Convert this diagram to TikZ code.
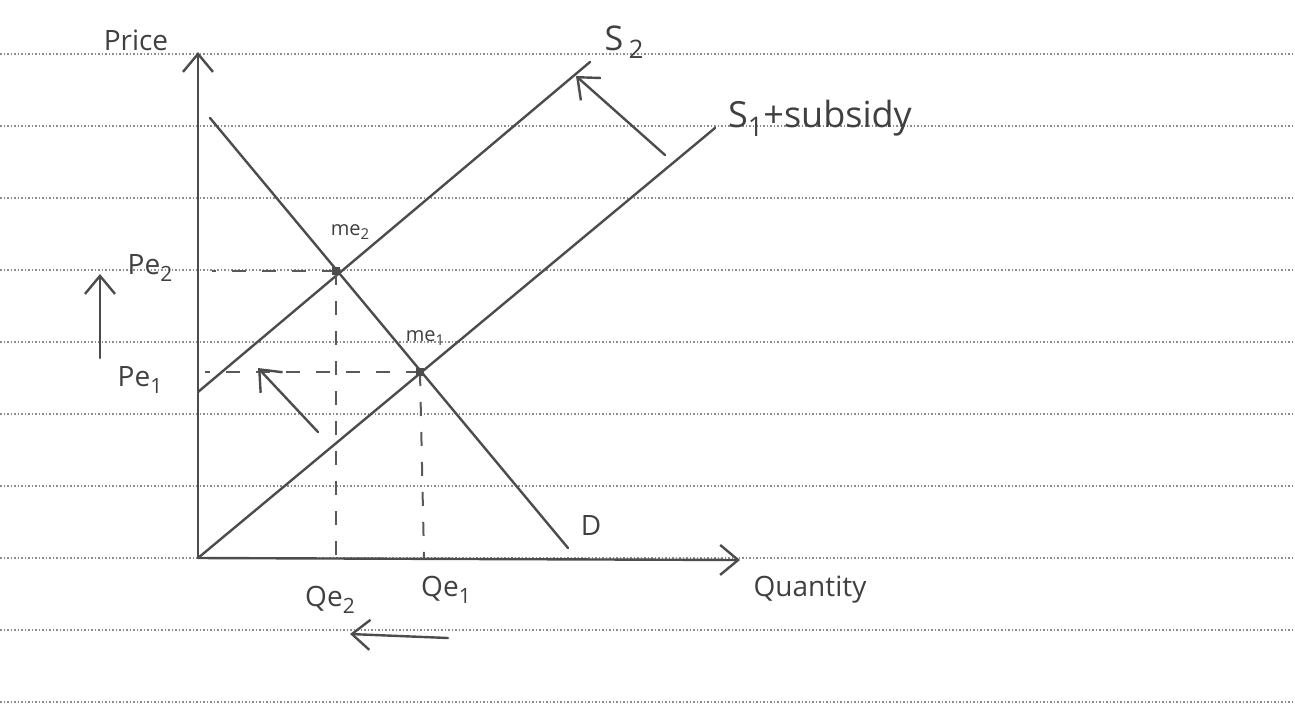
\documentclass[tikz,border=0pt]{standalone}
\usepackage{fontspec}
\setmainfont{Open Sans}
\usetikzlibrary{arrows.meta,calc}
\newcommand\lsub[1]{\raisebox{-0.45ex}{\scalebox{0.75}{#1}}}
\begin{document}
\begin{tikzpicture}[x=1pt,y=-1pt,
  ink/.style={draw=black!70,line width=2.4pt,line cap=round},
  guide/.style={draw=black!65,line width=2pt,dash pattern=on 14pt off 16pt},
  paper/.style={draw=black!45,line width=1.2pt,dash pattern=on 1.5pt off 2pt},
  barb/.style={-{Straight Barb[length=18pt,width=30pt,line width=2.4pt]}},
  lbl/.style={text=black!75,font=\fontsize{28}{30}\selectfont,inner sep=0pt},
  small/.style={text=black!75,font=\fontsize{20}{22}\selectfont,inner sep=0pt}]
\useasboundingbox (0,0) rectangle (1295,705);
% lined paper
\foreach \yy in {54,126,198,270,342,414,486,558,630,702}
  \draw[paper] (0,\yy) -- (1295,\yy);
% coordinates
\coordinate (O) at (198,558);
\coordinate (ytop) at (198,52);
\coordinate (xend) at (740,560);
\coordinate (s1a) at (198,558);
\coordinate (s1b) at (715,128);
\coordinate (s2a) at (198,392);
\coordinate (s2b) at (590,62);
\coordinate (da) at (210,118);
\coordinate (db) at (568,548);
\coordinate (me2) at (336,271);
\coordinate (me1) at (420,372);
\coordinate (pe2l) at (212,271);
\coordinate (pe1l) at (205,372);
\coordinate (qe2b) at (336,558);
\coordinate (qe1b) at (424,558);
% axes
\draw[ink,barb] (O) -- (ytop);
\draw[ink,barb] (O) -- (xend);
% curves
\draw[ink] (s1a) -- (s1b);
\draw[ink] (s2a) -- (s2b);
\draw[ink] (da) -- (db);
% guides
\draw[guide] (me2) -- (pe2l);
\draw[guide] (me1) -- (pe1l);
\draw[guide] (me2) -- (qe2b);
\draw[guide] (me1) -- (qe1b);
% equilibrium dots
\fill[black!70] ($(me2)+(-4,-4)$) rectangle ($(me2)+(4,4)$);
\fill[black!70] ($(me1)+(-4,-4)$) rectangle ($(me1)+(4,4)$);
% shift arrows
\coordinate (u1) at (100,358); \coordinate (u2) at (100,274);
\draw[ink,barb] (u1) -- (u2);
\coordinate (a1) at (318,432); \coordinate (a2) at (258,368);
\draw[ink,barb] (a1) -- (a2);
\coordinate (b1) at (665,155); \coordinate (b2) at (576,76);
\draw[ink,barb] (b1) -- (b2);
\coordinate (c1) at (448,638); \coordinate (c2) at (350,634);
\draw[ink,barb] (c1) -- (c2);
% labels
\node[lbl] (price) at (136,40) {Price};
\node[lbl,font=\fontsize{34}{36}\selectfont] (s2) at (624,42) {S\,\lsub{2}};
\node[lbl,font=\fontsize{36}{38}\selectfont] (s1) at (820,118) {S\lsub{1}+subsidy};
\node[lbl] (pe2) at (150,268) {Pe\lsub{2}};
\node[lbl] (pe1) at (140,380) {Pe\lsub{1}};
\node[small] (lme2) at (350,232) {me\lsub{2}};
\node[small] (lme1) at (425,338) {me\lsub{1}};
\node[lbl] (d) at (591,525) {D};
\node[lbl] (qe2) at (330,600) {Qe\lsub{2}};
\node[lbl] (qe1) at (446,590) {Qe\lsub{1}};
\node[lbl] (qty) at (810,590) {Quantity};
\end{tikzpicture}
\end{document}
